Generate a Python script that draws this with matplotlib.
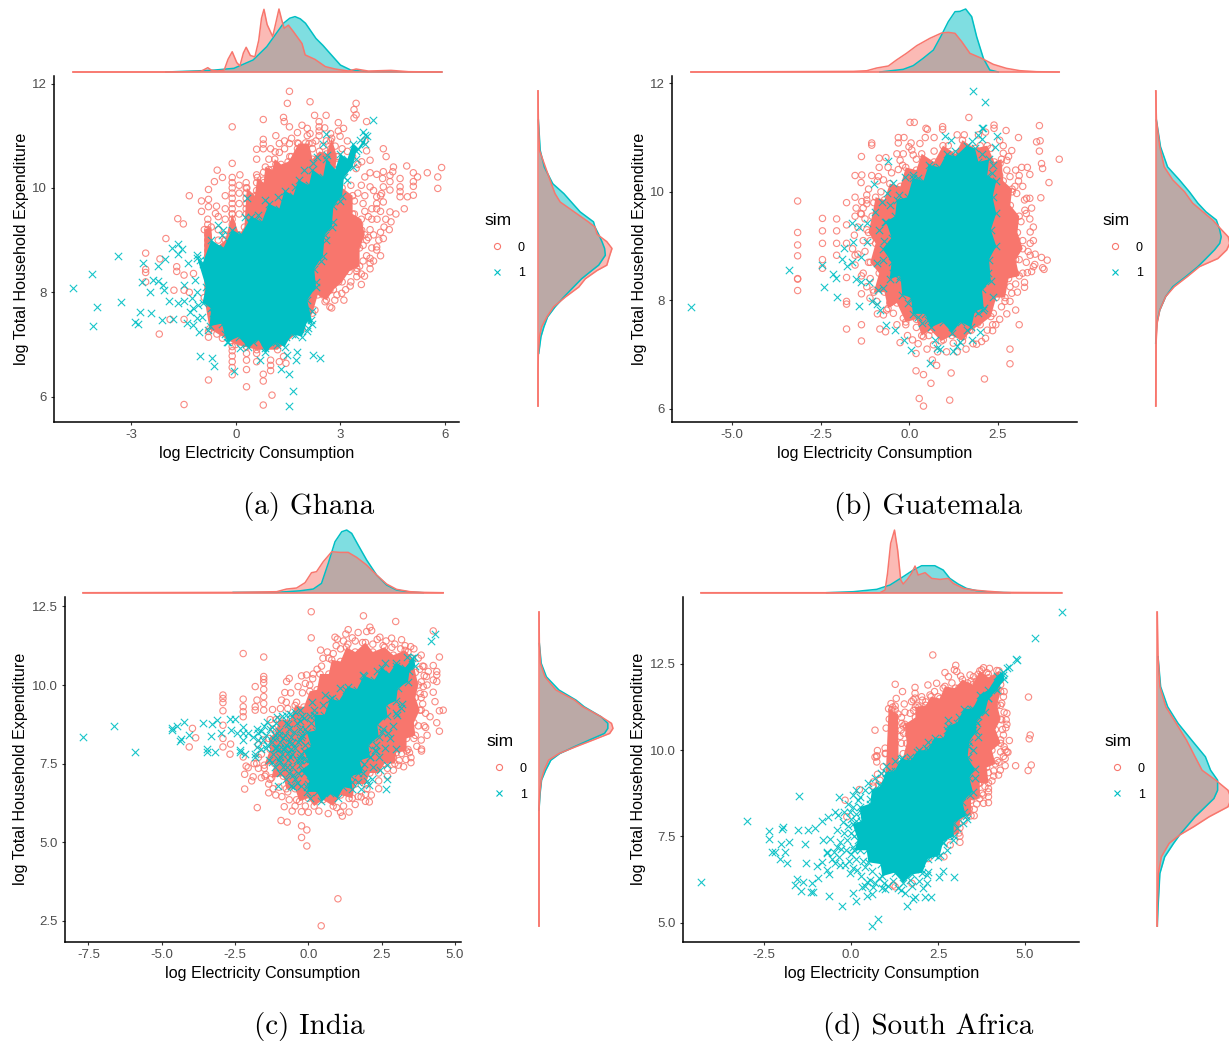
import matplotlib
matplotlib.use("Agg")
import matplotlib.pyplot as plt
from matplotlib.lines import Line2D

plt.rcParams["font.family"] = ["Liberation Sans", "DejaVu Sans"]
plt.rcParams["axes.unicode_minus"] = False

RED = "#F8766D"
CYAN = "#00BFC4"
W, H = 1229, 1043

# ---- Ghana ----
ghana_ticks_x = [-3, 0, 3, 6]
ghana_ticks_y = [6, 8, 10, 12]
# rim of the part of each cloud where the markers merge into a solid area
ghana_obs_core = [(0.25, 9.25), (0.32, 10.0), (0.55, 9.85), (0.62, 10.2), (0.8, 10.1), (0.85, 10.4), (1.05, 10.35), (1.12, 10.55), (1.3, 10.45),
                  (1.5, 10.5), (1.6, 10.6), (1.8, 10.85), (2.1, 10.85), (2.2, 10.55), (2.4, 10.7), (2.6, 10.65), (2.75, 10.95), (2.9, 10.6), (2.85, 10.35),
                  (3.05, 10.0), (3.35, 9.85), (3.35, 9.5), (3.6, 9.4), (3.7, 9.1), (3.55, 8.85), (3.55, 8.5), (3.25, 8.4), (3.05, 8.2), (2.8, 8.05), (2.6, 7.85),
                  (2.35, 7.95), (2.2, 7.6), (1.9, 7.3), (1.2, 6.9), (0.6, 6.9), (0.0, 7.0), (-0.75, 7.3), (-0.9, 7.9), (-0.9, 9.2), (-0.7, 9.25), (-0.65, 8.8),
                  (-0.3, 9.0), (-0.1, 9.5), (0.1, 9.1)]
ghana_sim_core = [(3.75, 11.0), (3.5, 10.75), (3.35, 10.85), (3.2, 10.55), (3.0, 10.65), (2.85, 10.35), (2.6, 10.55), (2.5, 10.2), (2.2, 10.35), (2.1, 10.05),
                  (1.8, 10.15), (1.65, 9.85), (1.4, 9.95), (1.25, 9.6), (0.95, 9.7), (0.75, 9.35), (0.45, 9.45), (0.15, 9.1), (-0.1, 9.2), (-0.35, 8.85), (-0.7, 9.0),
                  (-0.95, 8.55), (-1.1, 8.65), (-0.85, 8.1), (-0.95, 7.8), (-0.7, 7.7), (-0.75, 7.35), (-0.4, 7.4), (-0.25, 7.05), (0.1, 7.15), (0.35, 6.95), (0.65, 7.1),
                  (0.85, 6.85), (1.15, 7.05), (1.4, 6.95), (1.6, 7.2), (1.9, 7.15), (2.05, 7.45), (2.2, 7.4), (2.05, 7.85), (2.3, 8.1), (2.25, 8.45), (2.5, 8.7),
                  (2.55, 9.1), (2.75, 9.25), (2.8, 9.65), (3.05, 9.85), (3.1, 10.2), (3.35, 10.4), (3.45, 10.7), (3.7, 10.85)]
ghana_obs_pts = [(1.54, 11.85), (2.13, 11.65), (1.48, 11.62), (3.45, 11.62), (3.39, 11.5), (3.45, 11.4), (3.39, 11.34), (2.59, 11.39),
                 (2.26, 11.39), (1.37, 11.35), (0.79, 11.31), (1.39, 11.27), (3.75, 11.27), (2.39, 11.27), (1.54, 11.17), (-0.1, 11.17),
                 (2.05, 11.14), (2.39, 11.17), (2.39, 11.09), (2.39, 11.0), (2.94, 11.25), (3.09, 11.14), (2.94, 11.09), (1.77, 11.06),
                 (2.13, 11.04), (2.72, 11.04), (2.99, 10.99), (3.7, 10.9), (0.79, 10.93), (0.79, 10.84), (0.79, 10.75), (0.6, 10.74),
                 (1.54, 10.85), (1.77, 10.86), (1.77, 10.75), (1.77, 10.66), (1.77, 10.56), (2.0, 10.86), (2.0, 10.72), (2.2, 10.86),
                 (2.2, 10.75), (2.5, 10.8), (2.72, 10.9), (2.72, 10.75), (2.94, 10.6), (4.23, 10.75), (4.31, 10.6), (1.13, 10.69),
                 (1.25, 10.68), (-0.1, 10.47), (0.6, 10.55), (3.75, 10.71), (3.61, 10.5), (3.45, 10.37), (3.85, 10.53), (5.9, 10.39),
                 (5.49, 10.29), (4.9, 10.42), (5.21, 10.21), (5.09, 10.29), (5.79, 10.21), (5.09, 10.12), (5.09, 10.03), (5.79, 9.99),
                 (4.52, 10.4), (4.5, 10.31), (4.42, 10.24), (4.23, 10.31), (4.21, 10.18), (4.04, 10.26), (3.85, 10.29), (3.7, 10.21),
                 (4.71, 10.18), (4.71, 10.02), (4.71, 9.93), (4.71, 9.83), (5.09, 9.86), (4.92, 9.83), (4.83, 9.6), (4.42, 10.12),
                 (4.42, 9.96), (4.23, 10.02), (4.18, 9.89), (3.85, 10.02), (4.04, 9.83), (4.04, 9.7), (4.04, 9.6), (4.23, 9.73),
                 (4.42, 9.54), (4.59, 9.5), (-0.53, 10.34), (-0.38, 10.2), (-0.61, 10.12), (-0.78, 9.97), (-1.33, 9.85), (-0.98, 9.75),
                 (-0.78, 9.78), (-0.78, 9.64), (-0.98, 9.55), (-0.58, 9.51), (-1.66, 9.41), (-1.5, 9.31), (0.12, 10.25),
                 (-0.1, 10.2), (-0.1, 10.1), (-0.1, 10.0), (-0.1, 9.9), (-0.1, 9.8), (-0.1, 9.7), (-0.1, 9.6), (-0.1, 9.5), (-0.1, 9.4), (-0.1, 9.3),
                 (-0.1, 9.2), (-0.1, 9.1), (0.3, 10.1), (0.3, 10.0), (0.3, 9.9), (0.3, 9.8), (0.3, 9.7), (0.3, 9.6), (0.3, 9.5), (0.1, 10.05),
                 (0.6, 10.25), (0.6, 10.1), (0.6, 9.95), (0.6, 9.85), (0.8, 10.3), (0.8, 10.15), (0.95, 10.35), (1.15, 10.45),
                 (-0.8, 9.4), (-0.8, 9.3), (-0.8, 9.2), (-0.8, 9.1), (-0.8, 9.0), (-0.8, 8.9), (-0.8, 8.8), (-0.8, 8.7), (-0.8, 8.6), (-0.5, 9.2),
                 (-0.5, 9.0), (-0.3, 9.1), (-0.5, 8.8), (-2.0, 9.03), (-2.58, 8.75), (-2.17, 8.64), (-2.58, 8.44), (-2.58, 8.38), (-2.58, 8.2),
                 (-2.19, 7.2), (-1.88, 7.48), (-1.48, 7.48), (-1.48, 8.33), (-1.69, 8.49), (-1.69, 8.4), (-1.77, 8.04), (-1.48, 8.04),
                 (-1.33, 8.0), (-1.21, 8.36), (-0.78, 6.32), (-1.48, 5.85), (0.31, 6.19), (0.79, 5.84), (1.04, 6.03), (0.79, 6.3), (0.79, 6.43),
                 (-0.1, 6.42), (-0.1, 6.56), (-0.1, 6.67), (-0.1, 6.78), (-0.1, 6.88), (-0.1, 6.96), (0.31, 6.52), (0.31, 6.7), (0.31, 6.83),
                 (0.31, 6.96), (0.6, 6.67), (0.6, 6.83), (0.6, 6.96), (1.0, 6.5), (1.0, 6.6), (1.0, 6.7), (1.25, 6.67), (1.44, 6.64), (1.37, 6.77),
                 (-0.78, 7.14), (-0.78, 7.25), (-0.54, 7.2), (-0.38, 7.12), (2.7, 7.72), (2.84, 7.85), (2.56, 7.82), (2.27, 7.66), (2.08, 8.01),
                 (2.37, 8.08), (2.7, 8.04), (3.04, 7.98), (3.28, 8.12), (3.69, 8.31), (3.13, 8.4), (3.47, 8.3), (3.47, 8.4), (3.47, 8.46),
                 (3.85, 8.56), (3.85, 8.65), (4.04, 8.81), (4.04, 8.87), (4.23, 9.03), (3.75, 9.0), (3.61, 9.19), (3.4, 8.7), (3.5, 8.9),
                 (3.55, 9.3), (3.4, 9.5), (3.4, 9.75), (3.5, 9.9), (3.3, 10.05), (3.1, 10.3), (2.9, 10.45), (3.65, 9.7), (3.8, 9.45),
                 (3.85, 9.2), (3.7, 9.55), (2.95, 8.2), (2.8, 8.3), (2.5, 7.95)]
ghana_obs_extra = [(3.6, 10.05), (3.7, 9.85), (3.95, 9.95), (4.15, 9.85), (3.9, 9.6), (4.15, 9.55), (4.3, 9.4), (4.45, 9.35), (4.05, 9.4), (3.9, 9.4),
                   (4.25, 9.25), (4.4, 9.2), (4.15, 9.15), (3.95, 9.1), (4.1, 9.0), (3.8, 9.05), (3.65, 8.9), (3.9, 8.85), (3.75, 8.7), (3.65, 8.6), (3.95, 8.6),
                   (4.15, 8.7), (3.85, 8.45), (3.6, 8.35), (3.3, 8.2), (3.6, 8.15), (3.15, 8.05), (2.9, 7.95), (3.1, 7.85), (2.75, 7.7), (0.1, 9.9), (0.1, 9.7),
                   (0.1, 9.5), (-0.3, 9.6), (-0.3, 9.4), (-0.55, 9.65), (-0.3, 9.85), (-0.5, 9.45), (1.4, 10.9), (1.4, 10.75), (1.6, 10.95), (1.25, 10.85), (1.0, 10.75),
                   (0.95, 10.55), (1.15, 11.0), (2.05, 11.0), (2.3, 10.9), (2.6, 10.9), (2.85, 10.8), (3.05, 10.75), (3.2, 10.9), (3.2, 10.7), (3.35, 10.6), (3.5, 10.45),
                   (2.55, 11.15), (1.9, 11.2), (1.55, 10.6)]
ghana_sim_pts = [(-4.67, 8.08), (-4.13, 8.36), (-3.97, 7.71), (-4.1, 7.36), (-3.38, 8.7), (-3.28, 7.82), (-2.88, 7.44), (-2.8, 7.39),
                 (-2.73, 7.62), (-2.42, 7.6), (-2.45, 8.01), (-2.69, 8.2), (-2.38, 8.24), (-2.22, 8.22), (-2.65, 8.56), (-2.23, 8.5),
                 (-2.02, 8.64), (-1.83, 8.84), (-1.66, 8.93), (-1.53, 8.82), (-1.64, 8.73), (-2.07, 8.14), (-2.05, 8.04), (-1.9, 7.83),
                 (-2.11, 7.46), (-1.79, 7.48), (-1.66, 7.79), (-1.49, 7.84), (-1.48, 8.14), (-1.36, 8.56), (-1.12, 8.72), (-1.02, 8.62),
                 (-1.17, 8.24), (-1.12, 8.01), (-1.26, 7.89), (-1.21, 7.69), (-1.07, 7.76), (-1.31, 7.63), (-1.12, 7.5), (-0.97, 7.52),
                 (-1.4, 7.42), (-1.21, 7.37), (-1.04, 7.23), (-1.02, 6.78), (-0.67, 6.75), (-0.63, 6.58), (-0.04, 6.5), (0.7, 6.7),
                 (1.3, 6.54), (1.54, 6.44), (1.65, 6.1), (1.53, 5.82), (1.48, 6.79), (1.75, 6.86), (1.73, 6.7), (2.21, 6.8), (2.42, 6.75),
                 (2.03, 7.25), (2.08, 7.31), (2.15, 7.46), (1.99, 7.52), (1.7, 7.18), (1.44, 7.14), (1.17, 6.99), (0.84, 6.93), (0.12, 6.93),
                 (-0.21, 7.05), (-0.78, 7.28), (-0.64, 7.6), (3.93, 11.31), (3.66, 11.07), (3.7, 11.01), (3.56, 10.91), (2.59, 11.04),
                 (2.49, 10.85), (2.61, 10.63), (2.32, 10.6), (1.96, 10.34), (2.21, 10.47), (1.7, 10.02), (1.22, 9.83), (0.84, 9.76), (0.32, 9.8),
                 (0.27, 9.45), (0.41, 9.32), (0.55, 9.38), (0.65, 9.48), (-0.5, 9.29), (-0.35, 9.19), (-0.4, 9.09), (0.17, 9.09), (-0.85, 8.6),
                 (-0.7, 8.75), (-0.45, 8.8), (-0.2, 8.95), (-0.55, 7.55), (-0.3, 7.2), (0.3, 7.0), (0.5, 7.05), (1.1, 7.05), (1.85, 7.3),
                 (2.2, 7.65), (2.3, 8.2), (2.45, 8.6), (2.6, 9.0), (2.8, 9.35), (3.0, 9.75), (3.2, 10.15), (3.45, 10.55)]
ghana_top_obs_x = [-4.66, -1.8, -1.0, -0.8, -0.7, -0.53, -0.33, -0.22, -0.1, 0.03, 0.12, 0.22, 0.3, 0.42, 0.55, 0.66, 0.74, 0.81, 0.9, 1.06,
                   1.16, 1.24, 1.32, 1.39, 1.51, 1.65, 1.9, 1.99, 2.27, 2.57, 2.85, 3.23, 3.45, 3.8, 4.45, 4.95, 5.9]
ghana_top_obs_h = [0, 0, 0.01, 0.068, 0.03, 0.015, 0.03, 0.2, 0.32, 0.15, 0.095, 0.3, 0.39, 0.26, 0.24, 0.5, 0.85, 0.99, 0.75, 0.56,
                   0.8, 0.995, 0.82, 0.69, 0.74, 0.64, 0.45, 0.27, 0.2, 0.085, 0.047, 0.015, 0.047, 0.015, 0.026, 0.005, 0]
ghana_top_sim_x = [-2.0, -0.7, -0.05, 0.5, 0.89, 1.37, 1.55, 1.7, 1.85, 2.0, 2.3, 2.5, 2.66, 3.0, 3.3, 3.8, 5.9]
ghana_top_sim_h = [0, 0.026, 0.058, 0.19, 0.4, 0.77, 0.85, 0.875, 0.84, 0.77, 0.53, 0.42, 0.32, 0.11, 0.03, 0.005, 0]
ghana_right_obs_y = [11.86, 11.3, 10.72, 10.4, 10.08, 9.89, 9.73, 9.54, 9.35, 9.25, 9.11, 8.97, 8.84, 8.71, 8.52, 8.42, 8.26, 8.1, 7.91, 7.72, 7.53, 7.34, 7.15, 6.83, 6.51, 5.82]
ghana_right_obs_h = [0, 0.005, 0.02, 0.1, 0.18, 0.23, 0.3, 0.49, 0.68, 0.77, 0.8, 0.93, 1.0, 0.97, 0.93, 0.8, 0.64, 0.55, 0.37, 0.21, 0.12, 0.05, 0.02, 0.005, 0, 0]
ghana_right_sim_y = [11.3, 10.72, 10.4, 10.08, 9.89, 9.73, 9.54, 9.35, 9.25, 9.11, 8.97, 8.84, 8.71, 8.52, 8.42, 8.26, 8.1, 7.91, 7.72, 7.53, 7.34, 7.15, 6.83]
ghana_right_sim_h = [0.005, 0.03, 0.085, 0.2, 0.35, 0.45, 0.57, 0.75, 0.77, 0.82, 0.865, 0.9, 0.91, 0.82, 0.73, 0.59, 0.48, 0.35, 0.23, 0.13, 0.08, 0.04, 0.01]

# ---- Guatemala ----
guatemala_ticks_x = [-5.0, -2.5, 0.0, 2.5]
guatemala_ticks_y = [6, 8, 10, 12]
guatemala_obs_core = [(-1.05, 9.55), (-0.95, 9.9), (-0.7, 9.85), (-0.55, 10.15), (-0.25, 10.1), (-0.1, 10.45), (0.2, 10.4), (0.35, 10.7), (0.7, 10.55), (0.95, 10.85),
                      (1.3, 10.7), (1.5, 10.95), (1.85, 10.8), (2.2, 10.85), (2.4, 10.55), (2.6, 10.6), (2.65, 10.2), (2.9, 10.05), (2.85, 9.75), (3.1, 9.55), (3.05, 9.25),
                      (3.2, 8.95), (3.0, 8.75), (3.1, 8.45), (2.8, 8.4), (2.7, 8.05), (2.45, 8.05), (2.3, 7.7), (2.0, 7.55), (1.75, 7.45), (1.5, 7.25), (1.2, 7.35), (0.9, 7.25),
                      (0.6, 7.45), (0.35, 7.35), (0.2, 7.65), (-0.1, 7.6), (-0.35, 7.95), (-0.6, 7.85), (-0.7, 8.15), (-1.0, 8.15), (-0.85, 8.5), (-1.1, 8.7), (-0.95, 9.05), (-1.15, 9.25)]
guatemala_sim_core = [(1.62, 10.85), (1.3, 10.65), (1.05, 10.7), (0.85, 10.45), (0.55, 10.5), (0.4, 10.2), (0.1, 10.25), (-0.05, 9.9), (-0.35, 9.85), (-0.4, 9.55), (-0.65, 9.45),
                      (-0.5, 9.15), (-0.75, 8.95), (-0.5, 8.7), (-0.55, 8.4), (-0.25, 8.45), (-0.2, 8.1), (0.05, 8.05), (0.1, 7.75), (0.45, 7.75), (0.6, 7.5), (0.95, 7.6), (1.2, 7.4),
                      (1.45, 7.6), (1.75, 7.5), (1.85, 7.8), (2.1, 7.85), (2.05, 8.2), (2.3, 8.35), (2.25, 8.75), (2.45, 9.0), (2.3, 9.3), (2.45, 9.6), (2.35, 9.9), (2.45, 10.2),
                      (2.2, 10.3), (2.25, 10.6), (1.95, 10.55), (1.85, 10.8)]
guatemala_obs_pts = [(1.68, 11.37), (2.39, 11.23), (2.39, 11.17), (2.73, 11.13), (3.67, 11.22), (3.08, 11.0), (0.02, 11.28), (0.14, 11.28),
                     (0.47, 11.17), (0.51, 11.15), (0.94, 11.2), (0.94, 11.15), (-0.31, 11.0), (-0.15, 11.0), (-0.31, 10.9), (-1.06, 10.9),
                     (-1.06, 10.86), (0.3, 10.89), (-0.01, 10.83), (0.07, 10.77), (-0.17, 10.7), (0.11, 10.68), (-1.35, 10.65), (-0.85, 10.62),
                     (-0.66, 10.63), (-0.85, 10.45), (-0.26, 10.58), (-0.19, 10.49), (-0.31, 10.41), (-1.53, 10.3), (-1.34, 10.31), (-1.36, 10.17),
                     (-1.06, 10.3), (-0.87, 10.28), (-0.73, 10.22), (3.59, 10.92), (3.69, 10.94), (3.67, 10.75), (4.23, 10.6), (3.73, 10.52),
                     (3.76, 10.43), (3.17, 10.45), (3.33, 10.45), (3.4, 10.32), (3.94, 10.17), (2.65, 10.71), (2.75, 10.58), (2.89, 10.76),
                     (3.31, 9.88), (3.4, 9.88), (3.71, 9.89), (-3.15, 9.83), (-2.45, 9.51), (-2.05, 9.5), (-3.15, 9.02), (-2.45, 9.05), (-2.05, 9.05),
                     (-1.77, 9.8), (-1.53, 9.9), (-1.34, 9.82), (-1.53, 9.55), (-1.37, 9.6), (-1.35, 9.59), (-1.77, 9.39), (-1.77, 9.05), (-1.2, 9.94),
                     (-1.2, 9.85), (-1.2, 9.78), (3.5, 9.35), (3.4, 9.5), (3.26, 9.66), (3.08, 10.2), (2.98, 10.1), (3.03, 9.97), (2.75, 10.4),
                     (2.84, 10.28), (2.56, 10.52), (-3.15, 9.25), (-2.45, 9.28), (-2.05, 9.28), (-3.15, 8.82), (-2.45, 8.75), (-2.45, 8.59),
                     (-3.15, 8.4), (-3.15, 8.39), (-3.15, 8.18), (-2.05, 8.83), (-1.77, 8.42), (-1.53, 8.83), (-1.53, 8.65), (-1.77, 7.98),
                     (-1.77, 7.93), (-1.77, 7.47), (-1.35, 8.12), (-1.35, 7.55), (-1.35, 7.25), (-0.83, 7.47), (-0.67, 7.42), (-0.26, 7.22),
                     (0.09, 7.27), (0.19, 7.02), (0.65, 6.9), (0.77, 6.8), (0.19, 6.7), (0.4, 6.63), (0.61, 6.47), (1.18, 6.66), (2.12, 6.55),
                     (0.28, 6.19), (0.4, 6.05), (1.14, 6.16), (2.84, 7.1), (2.84, 6.83), (3.1, 7.55), (3.0, 7.82), (2.35, 7.55), (2.44, 7.55),
                     (2.35, 7.44), (2.04, 7.24), (1.9, 7.19), (1.93, 7.58), (3.73, 8.79), (3.89, 8.74), (3.76, 8.6), (3.8, 8.57), (3.54, 8.66),
                     (3.5, 8.62), (3.45, 8.53), (3.33, 8.51), (3.25, 8.33), (3.25, 8.24), (3.41, 8.83), (3.41, 9.05), (3.41, 9.26), (3.03, 9.11),
                     (2.84, 8.25), (2.89, 8.13), (2.7, 7.98), (2.6, 7.88), (2.84, 7.98), (2.37, 7.76), (2.13, 7.98), (0.4, 7.33), (0.68, 7.18),
                     (0.96, 7.27), (1.24, 7.21), (1.52, 7.33), (-0.64, 7.82), (-0.45, 7.76), (-0.17, 7.67), (-0.73, 7.73), (-1.11, 8.04),
                     (-1.02, 8.19), (-0.92, 7.98), (-1.2, 9.3), (-1.1, 9.1), (-1.25, 8.9), (-1.15, 8.7), (-1.3, 8.5), (-1.1, 8.4), (-1.0, 9.8),
                     (-0.8, 10.0), (-0.5, 10.35), (0.2, 10.6), (0.7, 10.75), (1.1, 10.85), (2.0, 10.85), (2.3, 10.8), (2.55, 10.3), (2.9, 10.0),
                     (3.15, 9.45), (3.2, 9.1), (3.1, 8.75), (3.0, 8.5), (0.9, 7.35), (0.2, 7.5), (0.55, 7.35), (-0.1, 7.55), (-0.55, 7.95), (1.7, 7.45)]
guatemala_obs_extra = [(-1.3, 9.7), (-1.45, 9.35), (-1.3, 9.1), (-1.45, 8.85), (-1.55, 9.2), (-1.6, 8.95), (-1.25, 9.5), (-1.5, 9.7), (-1.15, 10.05), (-0.9, 10.2), (-0.6, 10.45),
                       (-0.35, 10.7), (0.05, 10.9), (0.45, 11.0), (0.7, 11.0), (1.35, 11.05), (1.55, 11.05), (1.95, 11.05), (2.15, 11.1), (2.55, 10.95), (2.65, 10.85), (2.8, 10.65),
                       (3.0, 10.4), (3.1, 10.3), (3.2, 10.1), (3.25, 9.85), (3.3, 9.6), (3.45, 9.7), (3.5, 9.1), (3.35, 8.9), (3.55, 8.85), (3.3, 8.7), (3.2, 8.5), (3.0, 8.3), (3.05, 8.15),
                       (2.75, 7.75), (2.55, 7.65), (2.2, 7.45), (2.15, 7.3), (1.8, 7.2), (1.6, 7.1), (1.35, 7.05), (1.05, 7.05), (0.8, 7.05), (0.5, 7.1), (0.25, 7.2), (-0.05, 7.35),
                       (-0.35, 7.55), (-0.9, 7.75), (-1.2, 8.25), (-1.35, 8.45)]
guatemala_sim_pts = [(1.8, 11.86), (2.13, 11.65), (2.04, 11.17), (2.09, 11.17), (2.46, 11.02), (1.01, 11.03), (1.95, 11.05), (1.76, 10.94),
                     (2.04, 10.98), (2.42, 10.83), (1.19, 10.95), (-0.59, 10.57), (-0.99, 10.14), (-0.45, 10.17), (-0.64, 9.97), (-0.78, 9.82),
                     (-0.97, 9.63), (-0.69, 9.45), (-1.2, 9.42), (-1.41, 9.35), (-1.63, 9.42), (-0.12, 10.28), (0.11, 10.31), (2.32, 10.34),
                     (-6.17, 7.87), (-3.39, 8.56), (-2.46, 8.65), (-2.15, 8.48), (-2.08, 8.42), (-2.42, 8.25), (-2.04, 8.07), (-1.91, 8.77),
                     (-1.84, 8.96), (-1.77, 8.63), (-1.58, 9.08), (-1.63, 8.71), (-1.37, 8.8), (-1.49, 8.4), (-1.35, 8.33), (-1.13, 8.33),
                     (-1.41, 7.9), (-1.06, 7.98), (-0.92, 7.94), (-0.83, 7.82), (-0.73, 8.22), (-0.87, 8.19), (-0.66, 7.55), (-0.4, 7.45),
                     (-0.14, 7.26), (0.05, 7.09), (0.58, 6.84), (0.72, 7.27), (0.77, 7.12), (0.88, 7.1), (1.22, 7.07), (1.34, 7.15), (1.43, 7.24),
                     (1.62, 7.45), (1.76, 7.27), (1.99, 7.41), (2.09, 7.82), (2.37, 8.07), (2.23, 8.5), (0.35, 7.58), (0.54, 7.64), (1.95, 7.76),
                     (-0.45, 8.5), (-0.73, 8.74), (-1.2, 9.08), (-0.92, 8.68), (-0.7, 9.1), (-0.85, 9.3), (-0.55, 9.75), (-0.3, 9.95), (0.25, 10.25),
                     (0.6, 10.45), (1.3, 10.75), (2.05, 10.7), (2.35, 10.5), (-0.3, 8.4), (-0.05, 7.95), (0.25, 7.7)]
guatemala_top_obs_x = [-6.16, -1.58, -1.2, -0.92, -0.59, -0.36, -0.08, 0.21, 0.58, 0.91, 1.1, 1.29, 1.48, 1.71, 2.04, 2.37, 2.74, 3.12, 3.59, 4.23]
guatemala_top_obs_h = [0, 0.01, 0.02, 0.063, 0.095, 0.19, 0.295, 0.416, 0.532, 0.616, 0.626, 0.611, 0.479, 0.295, 0.216, 0.121, 0.058, 0.021, 0.005, 0]
guatemala_top_sim_x = [-0.83, -0.17, 0.11, 0.39, 0.68, 0.91, 1.1, 1.29, 1.43, 1.59, 1.76, 1.9, 2.09, 2.27, 2.51]
guatemala_top_sim_h = [0, 0.042, 0.1, 0.216, 0.347, 0.584, 0.795, 0.953, 0.958, 0.995, 0.874, 0.558, 0.216, 0.032, 0]
guatemala_right_obs_y = [11.86, 11.32, 10.83, 10.46, 10.22, 10.0, 9.79, 9.63, 9.48, 9.3, 9.17, 9.05, 8.93, 8.77, 8.62, 8.44, 8.25, 8.07, 7.82, 7.58, 7.21, 6.05]
guatemala_right_obs_h = [0, 0.01, 0.055, 0.115, 0.23, 0.39, 0.5, 0.64, 0.77, 0.89, 0.98, 1.0, 0.96, 0.84, 0.59, 0.43, 0.25, 0.135, 0.055, 0.02, 0.005, 0]
guatemala_right_sim_y = [11.32, 10.83, 10.46, 10.22, 10.0, 9.79, 9.63, 9.48, 9.3, 9.17, 9.05, 8.93, 8.77, 8.62, 8.44, 8.25, 8.07, 7.82, 7.58, 7.21]
guatemala_right_sim_h = [0.01, 0.065, 0.16, 0.32, 0.455, 0.57, 0.68, 0.82, 0.865, 0.885, 0.865, 0.795, 0.68, 0.57, 0.41, 0.23, 0.135, 0.055, 0.015, 0]

# ---- India ----
india_ticks_x = [-7.5, -5.0, -2.5, 0.0, 2.5, 5.0]
india_ticks_y = [2.5, 5.0, 7.5, 10.0, 12.5]
india_obs_core = [(-1.35, 8.3), (-1.1, 8.5), (-1.0, 8.9), (-0.6, 8.9), (-0.45, 9.35), (-0.15, 9.3), (0.05, 9.8), (0.3, 9.85), (0.4, 10.35), (0.7, 10.35), (0.8, 10.8), (1.1, 10.75),
                  (1.3, 11.2), (1.6, 11.05), (1.95, 11.35), (2.2, 11.05), (2.6, 11.2), (2.9, 10.95), (3.3, 11.1), (3.55, 10.85), (3.65, 10.4), (3.75, 10.0), (3.65, 9.6), (3.8, 9.2),
                  (3.6, 8.8), (3.65, 8.4), (3.35, 8.3), (3.35, 7.9), (3.0, 7.85), (2.95, 7.5), (2.6, 7.5), (2.4, 7.2), (2.1, 7.2), (1.95, 6.85), (1.6, 6.85), (1.5, 6.4), (1.1, 6.5),
                  (0.85, 6.15), (0.5, 6.35), (0.2, 6.15), (0.0, 6.4), (-0.3, 6.3), (-0.45, 6.7), (-0.75, 6.7), (-0.85, 7.1), (-1.25, 7.05), (-1.15, 7.5), (-1.5, 7.45), (-1.3, 7.95)]
india_sim_core = [(3.6, 10.9), (3.3, 10.55), (3.0, 10.7), (2.75, 10.35), (2.5, 10.55), (2.25, 10.15), (1.9, 10.3), (1.65, 9.85), (1.35, 9.95), (1.05, 9.5), (0.75, 9.55), (0.55, 9.05),
                  (0.2, 9.05), (0.25, 8.55), (-0.05, 8.5), (0.1, 8.05), (-0.15, 7.9), (0.05, 7.5), (-0.2, 7.3), (0.05, 6.95), (-0.05, 6.6), (0.3, 6.6), (0.45, 6.3), (0.75, 6.55), (1.0, 6.4),
                  (1.2, 6.75), (1.5, 6.7), (1.45, 7.1), (1.85, 7.2), (1.75, 7.6), (2.1, 7.7), (2.05, 8.1), (2.4, 8.35), (2.35, 8.75), (2.7, 9.0), (2.65, 9.35), (3.0, 9.5), (3.05, 9.9),
                  (3.4, 10.1), (3.45, 10.45), (3.65, 10.6)]
india_obs_pts = [(0.1, 12.33), (1.88, 12.2), (2.98, 12.02), (0.1, 11.5), (4.26, 11.72), (-2.22, 11.0), (-1.52, 10.89), (0.42, 11.11), (1.36, 11.76),
                 (1.28, 11.62), (2.1, 11.84), (2.16, 11.73), (0.91, 11.52), (0.99, 11.46), (1.7, 11.67), (1.99, 11.7), (2.44, 11.52), (2.84, 11.49),
                 (3.18, 11.44), (3.49, 11.22), (4.47, 10.89), (3.94, 10.59), (4.26, 10.62), (4.09, 10.43), (4.38, 10.43), (4.38, 10.32), (4.03, 10.27),
                 (4.26, 10.16), (4.38, 10.11), (4.26, 9.77), (3.92, 9.95), (3.81, 9.73), (4.6, 9.2), (4.47, 9.18), (4.32, 9.47), (4.38, 8.8), (4.47, 8.53),
                 (3.95, 8.7), (4.15, 8.99), (3.86, 7.96), (-1.52, 10.27), (-1.52, 10.18), (-1.52, 10.07), (-1.52, 9.86), (-1.52, 9.63), (-1.52, 9.41),
                 (-1.52, 9.2), (-1.81, 9.95), (-1.75, 9.52), (-1.81, 9.31), (-1.81, 9.2), (-2.22, 9.55), (-2.22, 9.31), (-2.22, 9.15), (-2.22, 8.99),
                 (-2.91, 9.68), (-2.91, 9.57), (-2.91, 9.44), (-2.91, 9.18), (-3.95, 8.62), (-3.84, 8.32), (-4.06, 8.03), (-2.91, 8.72), (-2.91, 8.3),
                 (-2.91, 8.03), (-2.65, 8.12), (-0.8, 9.76), (-0.91, 9.52), (-1.22, 9.22), (-0.74, 10.11), (-0.65, 10.21), (-0.23, 10.29), (-0.06, 10.32),
                 (0.17, 10.35), (1.01, 3.2), (0.44, 2.34), (-0.05, 4.88), (-0.23, 5.15), (-0.05, 5.39), (-0.23, 5.52), (-0.93, 5.69), (-0.72, 5.64),
                 (-1.74, 6.1), (-0.82, 6.13), (-0.55, 5.99), (-0.23, 5.97), (0.0, 5.95), (0.36, 5.99), (0.68, 5.91), (1.16, 5.83), (1.39, 5.96), (0.97, 6.1),
                 (1.1, 5.95), (-2.17, 6.69), (-1.35, 6.57), (-1.11, 6.5), (1.8, 6.44), (2.08, 6.28), (1.95, 6.52), (1.39, 6.39), (2.9, 7.29), (3.07, 7.45),
                 (3.5, 7.53), (3.33, 7.63), (3.5, 7.69), (3.18, 7.82), (2.9, 7.71), (3.86, 7.9), (-2.17, 7.16), (-1.93, 6.95), (-1.88, 7.08), (-1.48, 7.1),
                 (-2.12, 7.42), (-2.05, 7.37), (-1.76, 7.5), (-2.22, 7.71), (-2.67, 7.8), (0.45, 10.6), (0.7, 10.85), (0.85, 11.0), (1.1, 11.15), (1.35, 11.3),
                 (1.6, 11.4), (1.85, 11.35), (2.2, 11.3), (2.55, 11.25), (2.85, 11.2), (3.15, 11.15), (3.4, 11.05), (3.75, 10.85), (3.8, 10.5), (3.85, 10.1),
                 (3.85, 9.6), (3.85, 9.2), (3.75, 8.7), (3.6, 8.3), (3.4, 7.95), (3.1, 7.6), (2.7, 7.35), (2.4, 6.95), (2.0, 6.7), (1.6, 6.2), (1.2, 6.15),
                 (-0.1, 6.15), (-0.4, 6.35), (-0.7, 6.6), (-1.0, 6.75), (-1.3, 7.0), (-1.5, 7.35), (-1.6, 7.8), (-1.55, 8.25), (-1.2, 8.6), (-1.1, 8.9), (-0.7, 9.25),
                 (-0.4, 9.45), (-0.2, 9.75), (0.05, 10.0), (4.0, 9.1), (4.05, 8.4)]
india_obs_extra = [(-1.7, 7.35), (-1.85, 7.5), (-1.7, 7.7), (-1.7, 8.1), (-1.45, 7.15), (-1.6, 7.05), (-1.35, 6.85), (-1.2, 6.7), (-0.9, 6.45), (-0.65, 6.35), (-0.45, 6.15), (3.95, 9.7),
                   (3.9, 9.4), (4.05, 10.0), (3.95, 10.3), (3.9, 10.6), (3.85, 10.95), (3.6, 11.15), (3.3, 11.25), (2.95, 11.3), (2.65, 11.4), (2.35, 11.45), (1.5, 11.5), (1.2, 11.4), (0.95, 11.25),
                   (0.65, 11.05), (0.5, 10.85), (0.3, 10.5), (0.15, 10.2), (-0.1, 10.05), (-0.35, 9.95), (-0.6, 9.75), (-0.75, 9.45), (-0.95, 9.25), (-1.3, 8.9), (4.0, 8.65), (3.85, 8.25),
                   (3.7, 8.05), (3.45, 7.85), (3.25, 7.4), (2.7, 7.1), (2.4, 6.7), (2.15, 6.5), (1.95, 6.3), (1.7, 6.45)]
india_sim_pts = [(-7.69, 8.35), (-6.63, 8.69), (-5.92, 7.87), (-4.66, 8.56), (-4.64, 8.62), (-4.49, 8.69), (-4.24, 8.81), (-4.34, 8.28), (-4.38, 8.21),
                 (-4.08, 8.41), (-3.58, 8.8), (-3.27, 8.76), (-3.11, 8.89), (-3.33, 8.37), (-2.98, 8.48), (-3.47, 7.98), (-3.47, 7.87), (-3.18, 7.87),
                 (-2.67, 8.91), (-2.5, 8.91), (-2.65, 8.56), (-2.44, 8.46), (-2.33, 7.93), (-2.16, 7.82), (-2.22, 8.67), (-2.22, 8.46), (-2.22, 8.24),
                 (-2.05, 8.46), (-1.88, 8.35), (-1.7, 8.46), (-1.76, 8.03), (-1.42, 8.83), (-1.25, 8.67), (-1.53, 8.24), (-1.82, 7.82), (4.32, 11.63),
                 (4.2, 11.4), (2.61, 10.71), (3.52, 10.85), (1.88, 10.32), (1.08, 9.89), (0.11, 9.47), (0.57, 9.68), (-0.62, 9.09), (-1.08, 8.99), (-0.28, 9.2),
                 (3.16, 9.26), (3.01, 9.04), (2.73, 8.46), (2.98, 7.98), (2.27, 7.93), (1.99, 7.82), (2.67, 7.45), (2.69, 7.02), (2.65, 6.69), (-1.05, 6.78),
                 (1.78, 6.68), (2.08, 6.81), (2.16, 7.02), (-1.82, 7.71), (-2.33, 7.87), (-0.51, 7.13), (-0.4, 6.87), (0.06, 6.39), (-0.51, 6.76), (-0.06, 6.76),
                 (-0.97, 7.71), (-0.74, 7.39), (-0.62, 7.71), (-0.28, 7.71), (-1.2, 8.3), (-1.0, 8.55), (-0.85, 8.3), (-0.7, 8.75), (-0.5, 8.5), (-0.3, 8.85),
                 (-0.1, 8.6), (0.05, 9.0), (-0.55, 8.15), (-0.3, 8.25), (-0.1, 8.1), (-0.85, 7.95), (-0.6, 7.95), (-0.3, 7.45), (-0.05, 7.6), (-0.15, 7.2),
                 (-1.15, 8.0), (-1.4, 8.1), (0.2, 9.2), (0.5, 9.35), (0.8, 9.6), (1.3, 9.85), (1.9, 10.1), (2.35, 10.45), (3.0, 10.6), (3.35, 10.9), (1.7, 7.2),
                 (1.9, 7.5), (2.1, 7.7), (2.3, 8.1), (2.5, 8.5), (2.15, 8.3), (1.85, 8.1), (1.5, 6.9), (0.0, 6.85), (0.15, 7.0),
                 (-0.9, 9.0), (-0.55, 9.0), (-0.2, 9.0), (0.1, 8.8), (-1.1, 8.8), (-0.75, 8.8), (-0.4, 8.8), (-1.3, 8.6), (-0.65, 8.6), (-0.3, 8.6),
                 (-1.45, 8.4), (-1.15, 8.4), (-0.8, 8.4), (-0.2, 8.4), (-1.25, 8.2), (-0.95, 8.2), (-0.65, 8.2), (-0.35, 8.2), (-1.45, 8.0), (-1.1, 8.0), (-0.8, 8.0),
                 (-0.45, 8.0), (-1.2, 7.8), (-0.9, 7.8), (-0.55, 7.8), (-0.25, 7.8), (-1.35, 7.6), (-1.0, 7.6), (-0.7, 7.6), (-0.4, 7.6), (-1.15, 7.4), (-0.85, 7.4),
                 (-0.55, 7.4), (-0.95, 7.2), (-0.65, 7.2), (-0.35, 7.2), (-0.75, 7.0), (-0.45, 7.0), (-0.6, 6.8), (-0.25, 6.8), (1.8, 7.35), (2.2, 7.4), (2.4, 7.7),
                 (2.6, 8.0), (2.3, 7.9), (2.8, 8.3), (2.55, 8.6), (2.9, 8.7), (3.0, 9.1), (3.2, 9.4), (2.0, 6.95), (1.7, 6.9), (2.45, 7.3),
                 (-1.6, 8.55), (-1.5, 8.7), (-1.7, 8.25), (-1.6, 7.95), (-1.75, 8.6), (-0.15, 8.95), (-0.45, 9.15), (-0.75, 9.05), (-0.25, 8.35), (-0.6, 8.35),
                 (-1.0, 8.4), (-0.75, 8.1), (-1.0, 7.95), (-0.7, 7.85), (-0.95, 7.55), (-1.25, 7.55), (-0.15, 7.65), (-0.3, 7.6)]
india_top_obs_x = [-7.68, -2.56, -1.08, -0.74, -0.4, -0.11, 0.11, 0.28, 0.51, 0.8, 1.08, 1.36, 1.65, 1.99, 2.33, 2.67, 3.01, 3.47, 3.92, 4.6]
india_top_obs_h = [0, 0.005, 0.016, 0.058, 0.074, 0.158, 0.316, 0.332, 0.49, 0.647, 0.637, 0.637, 0.558, 0.437, 0.279, 0.137, 0.053, 0.016, 0.005, 0]
india_top_sim_x = [-2.56, -1.08, -0.28, 0.17, 0.45, 0.68, 0.91, 1.14, 1.31, 1.48, 1.7, 1.99, 2.33, 2.67, 3.01, 3.47, 3.92]
india_top_sim_h = [0.005, 0.005, 0.03, 0.058, 0.147, 0.463, 0.805, 0.963, 0.99, 0.937, 0.753, 0.516, 0.279, 0.121, 0.042, 0.01, 0]
india_right_obs_y = [12.32, 11.32, 10.69, 10.26, 9.84, 9.52, 9.31, 8.99, 8.78, 8.62, 8.46, 8.25, 8.04, 7.82, 7.61, 7.29, 6.98, 6.55, 6.02, 2.33]
india_right_obs_h = [0, 0.005, 0.02, 0.08, 0.23, 0.48, 0.59, 0.84, 0.98, 1.0, 0.955, 0.73, 0.5, 0.27, 0.13, 0.07, 0.03, 0.01, 0, 0]
india_right_sim_y = [11.32, 10.69, 10.26, 9.84, 9.52, 9.31, 8.99, 8.78, 8.62, 8.46, 8.25, 8.04, 7.82, 7.61, 7.29, 6.98, 6.55, 6.02]
india_right_sim_h = [0.005, 0.03, 0.1, 0.27, 0.5, 0.61, 0.84, 0.93, 0.93, 0.885, 0.68, 0.48, 0.28, 0.16, 0.09, 0.035, 0.015, 0]

# ---- South Africa ----
sa_ticks_x = [-2.5, 0.0, 2.5, 5.0]
sa_ticks_y = [5.0, 7.5, 10.0, 12.5]
sa_obs_core = [(1.45, 9.6), (1.6, 10.2), (1.55, 10.75), (1.85, 10.95), (1.85, 11.25), (2.15, 11.3), (2.3, 11.55), (2.55, 11.5), (2.7, 11.85), (3.0, 11.8), (3.2, 12.05), (3.5, 11.9),
               (3.7, 12.3), (3.95, 12.1), (4.25, 12.3), (4.3, 11.7), (4.2, 11.3), (4.3, 10.9), (4.15, 10.6), (4.3, 10.2), (4.05, 10.0), (4.15, 9.6), (3.9, 9.5), (3.95, 9.05), (3.7, 9.05),
               (3.7, 8.6), (3.45, 8.55), (3.45, 8.1), (3.15, 8.1), (3.1, 7.6), (2.85, 7.5), (2.0, 7.5), (1.5, 8.0)]
sa_obs_strip = [(1.08, 11.2), (1.35, 11.05), (1.38, 9.0), (1.1, 8.8), (1.0, 9.3)]
sa_sim_core = [(4.38, 12.28), (4.2, 12.15), (3.95, 11.75), (3.7, 11.6), (3.5, 11.2), (3.25, 11.2), (3.05, 10.8), (2.8, 10.7), (2.65, 10.35), (2.4, 10.35), (2.2, 10.0), (1.95, 10.0), (1.7, 9.7),
               (1.45, 9.75), (1.25, 9.4), (1.0, 9.35), (0.85, 8.95), (0.6, 8.85), (0.55, 8.45), (0.25, 8.35), (0.3, 7.95), (0.05, 7.85), (0.2, 7.4), (0.1, 7.1), (0.45, 7.1), (0.5, 6.75),
               (0.85, 6.7), (0.9, 6.35), (1.25, 6.45), (1.5, 6.15), (1.75, 6.4), (2.05, 6.45), (2.2, 6.85), (2.55, 6.95), (2.65, 7.35), (2.95, 7.5), (2.95, 7.9), (3.3, 8.1), (3.2, 8.5),
               (3.5, 8.8), (3.4, 9.2), (3.55, 9.45), (3.35, 9.8), (3.4, 10.25), (3.6, 10.55), (3.6, 10.85), (3.85, 11.1), (3.95, 11.5), (4.2, 11.75), (4.4, 12.05)]
sa_obs_pts = [(2.35, 12.76), (3.01, 12.46), (2.97, 12.33), (3.04, 12.28), (2.7, 12.25), (3.42, 12.18), (3.52, 12.13), (3.81, 12.39), (3.76, 12.33),
              (3.98, 12.37), (4.19, 12.31), (1.27, 11.91), (1.84, 11.82), (2.21, 11.89), (1.48, 11.7), (1.84, 11.65), (1.84, 11.51), (1.53, 11.34),
              (1.74, 11.41), (1.79, 11.46), (2.03, 11.55), (2.27, 11.6), (2.46, 11.94), (2.8, 12.13), (5.1, 11.54), (1.27, 11.28), (1.17, 11.17),
              (1.27, 11.17), (4.48, 11.07), (4.46, 10.88), (4.48, 10.75), (4.33, 11.36), (0.69, 10.58), (1.01, 10.64), (5.15, 10.44), (5.12, 10.33),
              (4.55, 10.28), (4.38, 10.44), (4.43, 10.01), (4.51, 9.94), (4.38, 9.82), (0.98, 10.06), (0.76, 9.99), (1.0, 9.91), (0.74, 9.84), (0.69, 9.8),
              (1.46, 10.78), (1.44, 10.59), (1.41, 10.4), (1.51, 10.49), (1.7, 11.07), (1.6, 10.69), (4.29, 12.04), (4.38, 11.55), (4.33, 10.88),
              (4.73, 9.55), (5.18, 9.57), (5.09, 9.41), (4.48, 9.95), (4.43, 9.76), (4.43, 9.55), (4.29, 9.42), (4.24, 9.28), (4.05, 9.11), (3.95, 8.89),
              (3.95, 8.79), (3.95, 8.65), (3.95, 8.48), (3.81, 8.46), (3.61, 8.44), (3.54, 8.29), (3.54, 8.1), (3.33, 8.21), (3.13, 7.75), (3.13, 7.51),
              (3.13, 7.33), (2.85, 7.25), (2.67, 6.91), (2.22, 6.86), (1.75, 6.14), (1.27, 6.04), (1.22, 6.09), (-0.17, 8.55), (-0.12, 8.07), (0.24, 8.86),
              (0.74, 9.81), (0.74, 9.66), (0.98, 9.9), (0.93, 9.52), (0.76, 9.3), (0.64, 9.08), (0.64, 8.96), (0.83, 9.13), (0.79, 8.99), (3.66, 9.03),
              (3.76, 8.75), (3.52, 8.65), (3.33, 8.46), (1.2, 11.25), (1.55, 11.1), (1.9, 11.3), (2.15, 11.4), (2.5, 11.55), (2.8, 11.7), (3.1, 11.8),
              (3.35, 11.95), (3.6, 12.0), (3.95, 12.2), (4.3, 11.9), (4.3, 11.3), (4.35, 10.6), (4.3, 10.3), (4.2, 9.7), (3.95, 9.35), (1.5, 9.9), (1.45, 10.2)]
sa_obs_extra = [(1.45, 10.95), (1.5, 10.7), (1.65, 10.45), (1.8, 11.15), (1.95, 11.25), (2.05, 11.45), (2.4, 11.7), (2.65, 11.8), (2.9, 11.95), (3.15, 12.15), (3.45, 12.0), (3.65, 12.2),
                (3.9, 12.25), (4.15, 12.05), (4.4, 11.7), (4.4, 11.1), (4.45, 10.65), (4.4, 10.1), (4.3, 9.95), (4.25, 9.65), (4.1, 9.4), (4.1, 9.25), (3.85, 8.95), (3.8, 8.7), (3.6, 8.8),
                (3.35, 8.65), (3.4, 8.3), (3.25, 7.95), (1.15, 11.35), (1.3, 11.5), (1.1, 10.9)]
sa_sim_pts = [(6.06, 14.02), (5.28, 13.24), (4.74, 12.64), (4.77, 12.62), (4.53, 12.42), (4.48, 12.37), (4.38, 12.18), (3.63, 10.78), (3.52, 10.59),
              (3.66, 10.39), (3.37, 10.11), (3.52, 10.01), (2.8, 10.88), (2.22, 10.25), (1.89, 9.96), (1.46, 9.77), (1.7, 9.8), (-4.32, 6.19), (-2.98, 7.95),
              (-2.36, 7.65), (-2.36, 7.44), (-1.99, 7.73), (-1.94, 7.76), (-1.51, 7.68), (-1.49, 8.66), (-1.23, 7.7), (-1.04, 7.75), (-1.77, 7.33), (-2.0, 7.28),
              (-1.32, 7.28), (-2.28, 7.04), (-2.19, 7.06), (-1.9, 7.04), (-2.04, 6.84), (-1.85, 6.74), (-1.28, 6.72), (-0.99, 6.65), (-0.84, 6.77), (-0.68, 6.53),
              (-0.62, 6.41), (-0.94, 6.31), (-1.13, 6.14), (-1.39, 6.19), (-1.56, 6.28), (-1.61, 6.09), (-1.44, 5.93), (-1.1, 5.88), (-1.16, 5.88), (-0.64, 5.77),
              (-0.27, 5.49), (0.05, 5.87), (0.13, 5.64), (0.6, 4.89), (0.79, 5.11), (1.6, 5.49), (1.55, 5.85), (1.84, 5.75), (1.79, 5.7), (2.13, 5.75), (2.29, 5.75),
              (2.06, 6.01), (2.19, 6.14), (2.53, 6.33), (2.65, 6.5), (2.95, 6.32), (0.45, 5.78), (0.59, 5.83), (0.31, 6.04), (0.45, 6.19), (0.64, 6.04), (0.98, 5.99),
              (-0.03, 6.43), (0.16, 6.53), (0.4, 6.62), (-0.32, 6.67), (-0.17, 6.67), (-0.46, 6.72), (-0.7, 7.06), (-0.41, 7.2), (-0.8, 7.41), (-0.6, 7.44),
              (-0.7, 7.01), (-0.32, 7.35), (-0.12, 7.39), (0.07, 7.2), (-0.84, 7.94), (-0.65, 8.07), (-0.46, 8.21), (-0.36, 8.12), (-0.22, 7.92), (-0.41, 7.68),
              (-0.34, 8.65), (0.07, 8.36), (0.21, 8.55), (0.14, 8.84), (-0.03, 8.21), (3.33, 8.02), (3.23, 7.88), (2.94, 7.39), (2.75, 7.1), (2.51, 6.91),
              (2.22, 6.48), (2.18, 6.38), (0.15, 7.95), (0.1, 7.5), (0.25, 7.1), (0.35, 6.8), (0.6, 6.5), (0.8, 6.3), (1.2, 6.2), (1.7, 6.25), (2.0, 6.55), (2.4, 6.95),
              (2.65, 7.3), (3.05, 7.75), (3.25, 8.2), (3.42, 8.7), (3.55, 9.2), (0.3, 8.2), (0.55, 8.6), (0.8, 9.0), (1.15, 9.4), (2.15, 10.05), (2.75, 10.6), (3.1, 10.95),
              (3.45, 11.2), (3.65, 11.0), (3.95, 11.5), (4.15, 11.8),
              (0.0, 7.6), (-0.1, 7.8), (-0.2, 7.6), (-0.3, 7.15), (-0.15, 7.1), (0.0, 7.0), (-0.05, 6.8), (0.15, 6.85), (0.05, 6.6), (0.3, 6.35), (0.55, 6.25), (0.4, 6.05), (0.7, 6.15),
              (0.95, 6.15), (1.05, 6.05), (1.35, 6.0), (1.45, 5.95), (1.75, 6.05), (1.95, 6.2), (0.9, 6.0), (-0.55, 6.85), (-0.5, 7.05), (-0.35, 6.9), (0.15, 8.15), (0.0, 8.0), (-0.1, 8.45),
              (-0.2, 8.2), (0.05, 8.7), (0.25, 8.65), (0.4, 8.85), (0.5, 9.05), (0.7, 9.2), (0.85, 9.35), (1.0, 9.55), (1.25, 9.7), (1.0, 8.9)]
sa_top_obs_x = [-4.31, 0.07, 0.83, 0.98, 1.05, 1.14, 1.25, 1.34, 1.43, 1.5, 1.62, 1.74, 1.84, 1.93, 2.13, 2.32, 2.56, 2.8, 2.94, 3.23, 3.52, 3.85, 4.38, 6.05]
sa_top_obs_h = [0, 0, 0, 0.042, 0.305, 0.779, 0.989, 0.674, 0.2, 0.137, 0.21, 0.305, 0.421, 0.279, 0.316, 0.226, 0.21, 0.226, 0.147, 0.068, 0.042, 0.026, 0.005, 0]
sa_top_sim_x = [-0.7, 0.07, 0.74, 1.12, 1.5, 1.79, 2.03, 2.41, 2.65, 2.84, 3.08, 3.32, 3.61, 4.0, 4.57]
sa_top_sim_h = [0, 0.016, 0.053, 0.121, 0.253, 0.358, 0.426, 0.426, 0.358, 0.226, 0.137, 0.068, 0.032, 0.01, 0]
sa_right_obs_y = [14.0, 12.71, 11.84, 11.26, 10.78, 10.29, 9.81, 9.42, 9.13, 8.84, 8.6, 8.36, 8.07, 7.78, 7.54, 7.3, 6.91, 6.43, 5.46, 4.9]
sa_right_obs_h = [0, 0.01, 0.035, 0.115, 0.255, 0.395, 0.51, 0.605, 0.79, 0.955, 1.0, 0.955, 0.7, 0.49, 0.3, 0.16, 0.055, 0.015, 0, 0]
sa_right_sim_y = [12.71, 11.84, 11.26, 10.78, 10.29, 9.81, 9.42, 9.13, 8.84, 8.6, 8.36, 8.07, 7.78, 7.54, 7.3, 6.91, 6.43, 5.46, 4.9]
sa_right_sim_h = [0.01, 0.045, 0.14, 0.28, 0.465, 0.65, 0.72, 0.815, 0.815, 0.765, 0.65, 0.51, 0.395, 0.3, 0.22, 0.1, 0.035, 0.01, 0]


def add_axes_px(fig, left, top, right, bottom):
    return fig.add_axes([left / W, 1 - bottom / H, (right - left) / W, (bottom - top) / H])


def draw_obs(ax, pts, z):
    ax.scatter(*zip(*pts), s=21, facecolors="none", edgecolors=RED, linewidths=0.8, alpha=0.85, zorder=z)


def draw_sim(ax, pts, z):
    ax.scatter(*zip(*pts), s=28, marker="x", color=CYAN, linewidths=0.8, alpha=0.9, zorder=z)


def draw_panel(fig, box, x0, x_scale, y0, y_scale, ticks, obs_core, sim_core, obs_pts, sim_pts, top, right, right_box, legend_at, caption):
    """box is left, top, right, bottom in pixels; x0/y0 give the pixel where data 0 falls."""
    left, t, r, bottom = box
    xlim = ((left - x0) / x_scale, (r - x0) / x_scale)
    ylim = ((y0 - bottom) / y_scale, (y0 - t) / y_scale)

    ax = add_axes_px(fig, left, t, r, bottom)
    for core in obs_core:
        ax.fill(*zip(*core), color=RED, lw=0, zorder=1)
        draw_obs(ax, core, 2)
    draw_obs(ax, obs_pts, 2)
    ax.fill(*zip(*sim_core), color=CYAN, lw=0, zorder=3)
    draw_sim(ax, sim_core, 4)
    draw_sim(ax, sim_pts, 4)
    ax.set_xlim(xlim)
    ax.set_ylim(ylim)
    ax.set_xticks(ticks[0])
    ax.set_yticks(ticks[1])
    ax.set_xticklabels([str(v) for v in ticks[0]])
    ax.set_yticklabels([str(v) for v in ticks[1]])
    ax.tick_params(length=2.5, width=0.8, color="#333333", labelcolor="#4D4D4D", labelsize=9.5, pad=3)
    ax.set_xlabel("log Electricity Consumption", fontsize=11.6, labelpad=3.2)
    ax.set_ylabel("log Total Household Expenditure", fontsize=11.6, labelpad=2.3)
    ax.spines[["top", "right"]].set_visible(False)
    ax.spines[["left", "bottom"]].set_linewidth(1.1)

    # top marginal, same x scale as the main panel
    base = t - 4
    ax_top = add_axes_px(fig, left, base - 63.3, r, base)
    for xs, hs, col in ((top[2], top[3], CYAN), (top[0], top[1], RED)):
        ax_top.fill_between(xs, hs, 0, color=col, alpha=0.5, lw=0)
        ax_top.plot(xs, hs, color=col, lw=1.1, clip_on=False)
    ax_top.plot([top[0][0], top[0][-1]], [0, 0], color=RED, lw=1.1, clip_on=False)
    ax_top.set_xlim(xlim)
    ax_top.set_ylim(0, 1)
    ax_top.axis("off")

    # right marginal, same y scale as the main panel
    ax_right = add_axes_px(fig, right_box, t, right_box + 74, bottom)
    for ys, hs, col in ((right[2], right[3], CYAN), (right[0], right[1], RED)):
        ax_right.fill_betweenx(ys, hs, 0, color=col, alpha=0.5, lw=0)
        ax_right.plot(hs, ys, color=col, lw=1.1, clip_on=False)
    ax_right.plot([0, 0], [right[0][0], right[0][-1]], color=RED, lw=1.1, clip_on=False)
    ax_right.set_xlim(0, 1)
    ax_right.set_ylim(ylim)
    ax_right.axis("off")

    handles = [Line2D([], [], ls="", marker="o", mfc="none", mec=RED, ms=4.4, mew=0.8),
               Line2D([], [], ls="", marker="x", color=CYAN, ms=5, mew=0.8)]
    fig.legend(handles, ["0", "1"], title="sim", loc="upper left", frameon=False,
               bbox_to_anchor=(legend_at[0] / W, 1 - legend_at[1] / H), fontsize=9,
               title_fontsize=12.5, labelspacing=1.1, handletextpad=0.6, handlelength=2.1,
               borderpad=0, borderaxespad=0, alignment="left")

    fig.text(caption[0] / W, 1 - caption[1] / H, caption[2], family="cmr10", fontsize=21, ha="center", va="center")


fig = plt.figure(figsize=(W / 100, H / 100), dpi=100)

draw_panel(fig, (54.3, 76, 459.3, 421.7), 235.7, 34.9, 709.9, 52.2,
           (ghana_ticks_x, ghana_ticks_y), [ghana_obs_core], ghana_sim_core, ghana_obs_pts + ghana_obs_extra, ghana_sim_pts,
           (ghana_top_obs_x, ghana_top_obs_h, ghana_top_sim_x, ghana_top_sim_h),
           (ghana_right_obs_y, ghana_right_obs_h, ghana_right_sim_y, ghana_right_sim_h),
           538, (484, 213), (309, 506.5, "(a) Ghana"))
draw_panel(fig, (672.3, 76, 1077.3, 421.7), 909.3, 35.45, 734.3, 54.25,
           (guatemala_ticks_x, guatemala_ticks_y), [guatemala_obs_core], guatemala_sim_core, guatemala_obs_pts + guatemala_obs_extra, guatemala_sim_pts,
           (guatemala_top_obs_x, guatemala_top_obs_h, guatemala_top_sim_x, guatemala_top_sim_h),
           (guatemala_right_obs_y, guatemala_right_obs_h, guatemala_right_sim_y, guatemala_right_sim_h),
           1155.7, (1102, 213), (928, 506.5, "(b) Guatemala"))
draw_panel(fig, (65, 596.7, 461, 941.7), 308.3, 29.33, 999.4, 31.44,
           (india_ticks_x, india_ticks_y), [india_obs_core], india_sim_core, india_obs_pts + india_obs_extra, india_sim_pts,
           (india_top_obs_x, india_top_obs_h, india_top_sim_x, india_top_sim_h),
           (india_right_obs_y, india_right_obs_h, india_right_sim_y, india_right_sim_h),
           539, (486, 734), (309, 1026.5, "(c) India"))
draw_panel(fig, (683, 596.7, 1079.3, 941.7), 851, 34.8, 1095.2, 34.5,
           (sa_ticks_x, sa_ticks_y), [sa_obs_core, sa_obs_strip], sa_sim_core, sa_obs_pts + sa_obs_extra, sa_sim_pts,
           (sa_top_obs_x, sa_top_obs_h, sa_top_sim_x, sa_top_sim_h),
           (sa_right_obs_y, sa_right_obs_h, sa_right_sim_y, sa_right_sim_h),
           1157.3, (1104, 734), (928, 1026.5, "(d) South Africa"))

fig.savefig("out.png", dpi=100)
